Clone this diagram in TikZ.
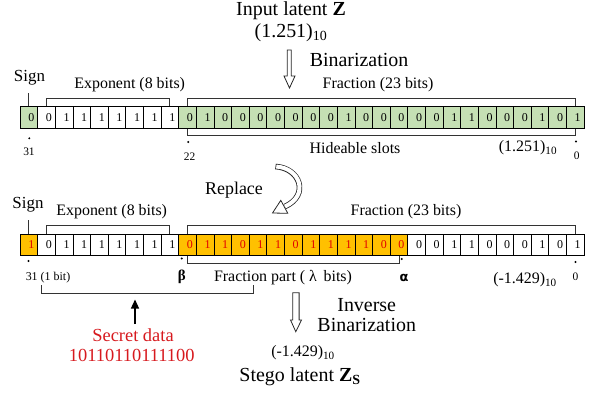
\documentclass[tikz,border=0pt]{standalone}
\usepackage{fontspec}
\setmainfont{Liberation Serif}
\newfontfamily\dvsans{DejaVu Sans}
\usetikzlibrary{arrows.meta}
\definecolor{gfill}{RGB}{197,224,180}
\definecolor{ofill}{RGB}{255,192,0}
\definecolor{rtxt}{RGB}{225,0,0}
\definecolor{sred}{RGB}{215,25,30}
\newcommand\fsz[1]{\fontsize{#1}{#1}\selectfont}
\begin{document}
\begin{tikzpicture}[x=1bp,y=-1bp,
  cell/.style={draw, line width=0.7bp, minimum width=17.625bp, minimum height=21.6bp, inner sep=0pt, font=\fsz{12}},
  brk/.style={draw=black!80, line width=0.8bp},
  lbl/.style={inner sep=0pt, font=\fsz{16}},
  big/.style={inner sep=0pt, font=\fsz{20}},
  small/.style={inner sep=0pt, font=\fsz{12}},
  hollow/.style={draw=black!85, line width=0.8bp, fill=white},
  dotm/.style={fill=black, circle, inner sep=0pt, minimum size=2.2bp}]
\useasboundingbox (0,0) rectangle (597,394);

% ---------- top row ----------
\foreach \b [count=\i from 0] in {0,0,1,1,1,1,1,1,1,0,1,0,0,0,0,0,0,0,1,0,0,0,0,0,1,1,0,0,0,1,0,1}{
  \pgfmathsetmacro\xx{28.8125+17.625*\i}
  \ifnum\i=0 \def\cf{gfill}\else\ifnum\i>8 \def\cf{gfill}\else\def\cf{white}\fi\fi
  \node[cell, fill=\cf] (t\i) at (\xx,117.5) {\hspace*{5bp}\b};
}
% ---------- bottom row ----------
\foreach \b [count=\i from 0] in {1,0,1,1,1,1,1,1,1,0,1,1,0,1,1,0,1,1,1,1,0,0,0,0,1,1,0,0,0,1,0,1}{
  \pgfmathsetmacro\xx{28.8125+17.625*\i}
  \def\cf{white}\def\tc{black}
  \ifnum\i=0 \def\cf{ofill}\def\tc{rtxt}\fi
  \ifnum\i>8 \ifnum\i<22 \def\cf{ofill}\def\tc{rtxt}\fi\fi
  \node[cell, fill=\cf, text=\tc] (b\i) at (\xx,245) {\hspace*{5bp}\b};
}

% ---------- top labels ----------
\node[big] (zin) at (291,10.5) {Input latent \textbf{Z}};
\node[big] (zval) at (291,33) {(1.251)\textsubscript{10}};
\node[big] (binz) at (359,60) {Binarization};
\coordinate (ba) at (289.3,50);
\draw[hollow] (ba) ++(-2,0) -- ++(0,26) -- ++(-3.3,0) -- (289.5,88) -- ++(5.5,-12) -- ++(-3.7,0) -- ++(0,-26) -- cycle;

\node[lbl, font=\fsz{17}] (sg1) at (29.5,78) {Sign};
\draw[brk] (t0.north) -- ++(0,-13.5);
\node[lbl] (ex1) at (129.7,85) {Exponent (8 bits)};
\draw[brk] (t1.north) -- ++(0,-8.4) -| (t8.north);
\node[lbl] (fr1) at (378,85) {Fraction (23 bits)};
\draw[brk] (t9.north) -- ++(0,-8.4) -| (t31.north);
\draw[brk] (t9.south) -- ++(0,6.7) -| (t31.south);
\node[lbl] (hid) at (355,148) {Hideable slots};
\node[lbl] (v1) at (528,148) {(1.251)\textsubscript{10}};

\node[dotm] (d31) at (29.3,138.3) {};
\node[small, font=\fsz{11.5}] (n31) at (29,151.5) {31};
\node[dotm] (d22) at (188.3,142) {};
\node[small, font=\fsz{11.5}] (n22) at (189.7,157) {22};
\node[dotm] (d0) at (576,141.5) {};
\node[small, font=\fsz{11.5}] (n0) at (576.7,156) {0};

% ---------- replace arrow ----------
\node[lbl, font=\fsz{18}] (rep) at (234,190) {Replace};
\draw[black!85, line width=5.6bp] (275.5,166.5) .. controls (300,168) and (310,195) .. (285,206.5);
\draw[white, line width=4bp, shorten <=0.8bp] (275.5,166.5) .. controls (300,168) and (310,195) .. (285,206.5);
\draw[hollow] (272.5,213) -- (280.8,200.3) -- (287.8,213.3) -- cycle;

% ---------- bottom labels ----------
\node[lbl, font=\fsz{17}] (sg2) at (28,205) {Sign};
\draw[brk] (b0.north) -- ++(0,-14);
\node[lbl] (ex2) at (111.7,212) {Exponent (8 bits)};
\draw[brk] (b1.north) -- ++(0,-8.8) -| (b8.north);
\node[lbl] (fr2) at (406,212) {Fraction (23 bits)};
\draw[brk] (b9.north) -- ++(0,-8.6) -| (b31.north);
\draw[brk] (b9.south) -- ++(0,6.8) -| (b21.south);
\node[lbl] (fp) at (283,278) {Fraction part ( λ\, bits)};
\node[lbl] (v2) at (525,280) {(-1.429)\textsubscript{10}};

\node[dotm] (e31) at (28.5,261) {};
\node[small] (n31b) at (48,278) {31 (1 bit)};
\node[dotm] (eb) at (181.7,258.5) {};
\node[inner sep=0pt, font=\fsz{15}\bfseries] (beta) at (181.7,277) {β};
\node[dotm] (ea) at (401.7,259) {};
\node[inner sep=0pt, font=\fsz{13}\dvsans\bfseries] (alpha) at (404,277.5) {α};
\node[dotm] (e0) at (575.5,262) {};
\node[small, font=\fsz{11.5}] (n0b) at (575.5,276.7) {0};

% ---------- secret data ----------
\coordinate (s1) at (41,285);
\coordinate (s2) at (41,293.3);
\coordinate (s3) at (253,293.3);
\coordinate (s4) at (253,285);
\draw[brk] (s1) -- (s2) -- (s3) -- (s4);
\node[inner sep=0pt, font=\fsz{18.5}, text=sred] (sd) at (133,335) {Secret data};
\node[inner sep=0pt, font=\fsz{18.5}, text=sred] (sdb) at (131.7,355) {10110110111100};
\coordinate (sa1) at (135,324);
\coordinate (sa2) at (135,299.5);
\draw[line width=1.3bp, -{Triangle[width=8bp,length=9bp]}] (sa1) -- (sa2);

% ---------- inverse binarization ----------
\coordinate (ia) at (295.5,292.7);
\draw[hollow] (ia) ++(-2.8,0) -- ++(0,27.3) -- ++(-2.2,0) -- (295.8,331.7) -- ++(5.7,-11.7) -- ++(-2.4,0) -- ++(0,-27.3) -- cycle;
\node[big] (inv1) at (366.7,305) {Inverse};
\node[big] (inv2) at (366.7,325) {Binarization};
\node[lbl] (zsv) at (303,353) {(-1.429)\textsubscript{10}};
\node[big] (zs) at (300,377) {Stego latent \textbf{Z}\textsubscript{\textbf{S}}};
\end{tikzpicture}
\end{document}
